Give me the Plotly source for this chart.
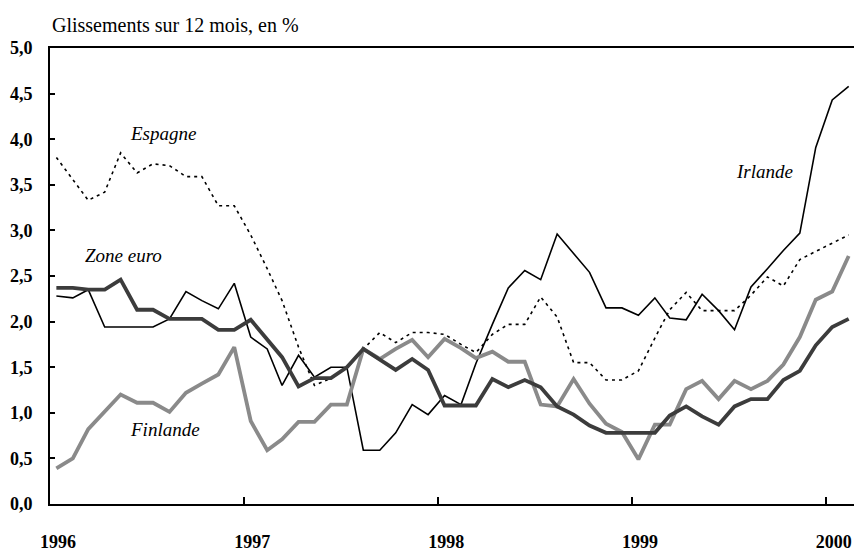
import pandas as pd
import plotly.graph_objects as go

months = pd.date_range("1996-01-01", periods=50, freq="MS") + pd.Timedelta(days=12)

zone_euro = [2.37, 2.37, 2.35, 2.35, 2.46, 2.13, 2.13, 2.03, 2.03, 2.03, 1.91, 1.91,
             2.02, 1.81, 1.61, 1.29, 1.38, 1.38, 1.50, 1.70, 1.58, 1.47, 1.59, 1.47,
             1.08, 1.08, 1.08, 1.37, 1.28, 1.36, 1.28, 1.07, 0.98, 0.86, 0.78, 0.78,
             0.78, 0.78, 0.97, 1.07, 0.96, 0.87, 1.07, 1.15, 1.15, 1.36, 1.46, 1.74,
             1.94, 2.03]

finlande = [0.39, 0.50, 0.82, 1.01, 1.20, 1.11, 1.11, 1.01, 1.22, 1.32, 1.42, 1.72,
            0.91, 0.59, 0.71, 0.90, 0.90, 1.09, 1.09, 1.70, 1.59, 1.70, 1.80, 1.61,
            1.81, 1.71, 1.60, 1.67, 1.56, 1.56, 1.09, 1.07, 1.37, 1.10, 0.88, 0.79,
            0.49, 0.87, 0.87, 1.26, 1.35, 1.15, 1.35, 1.26, 1.35, 1.53, 1.83, 2.24,
            2.33, 2.72]

irlande = [2.28, 2.26, 2.35, 1.94, 1.94, 1.94, 1.94, 2.03, 2.33, 2.23, 2.14, 2.42,
           1.83, 1.70, 1.30, 1.63, 1.39, 1.50, 1.50, 0.59, 0.59, 0.78, 1.09, 0.98,
           1.19, 1.09, 1.54, 1.97, 2.37, 2.56, 2.46, 2.96, 2.75, 2.54, 2.15, 2.15,
           2.07, 2.26, 2.04, 2.02, 2.30, 2.12, 1.91, 2.38, 2.58, 2.78, 2.97, 3.91,
           4.43, 4.58]

espagne = [3.80, 3.56, 3.33, 3.42, 3.85, 3.63, 3.73, 3.71, 3.59, 3.59, 3.27, 3.27,
           2.95, 2.58, 2.23, 1.72, 1.30, 1.38, 1.50, 1.70, 1.88, 1.77, 1.88, 1.88,
           1.86, 1.75, 1.66, 1.86, 1.97, 1.97, 2.27, 2.05, 1.55, 1.55, 1.36, 1.36,
           1.46, 1.82, 2.13, 2.32, 2.12, 2.12, 2.12, 2.29, 2.49, 2.39, 2.68, 2.77,
           2.86, 2.95]

year_ticks = ["1996-01-01", "1997-01-01", "1998-01-01", "1999-01-01", "2000-01-01"]
year_labels = ["1996", "1997", "1998", "1999", "2000"]
y_ticks = [0, 0.5, 1, 1.5, 2, 2.5, 3, 3.5, 4, 4.5, 5]
y_labels = ["0,0", "0,5", "1,0", "1,5", "2,0", "2,5", "3,0", "3,5", "4,0", "4,5", "5,0"]

FONT = "Liberation Serif"

fig = go.Figure()
fig.add_trace(go.Scatter(x=months, y=espagne, mode="lines", name="Espagne",
                         line=dict(color="black", width=1.6, dash="3px,4px")))
fig.add_trace(go.Scatter(x=months, y=irlande, mode="lines", name="Irlande",
                         line=dict(color="black", width=1.6)))
fig.add_trace(go.Scatter(x=months, y=finlande, mode="lines", name="Finlande",
                         line=dict(color="#8a8a8a", width=3.8)))
fig.add_trace(go.Scatter(x=months, y=zone_euro, mode="lines", name="Zone euro",
                         line=dict(color="#3c3c3c", width=3.8)))

fig.update_layout(
    width=854, height=552,
    margin=dict(l=50, r=0, t=48, b=44),
    paper_bgcolor="white", plot_bgcolor="white",
    showlegend=False,
    font=dict(family=FONT, color="black"),
    xaxis=dict(type="date", range=["1996-01-01", "2000-02-23"],
               tickvals=year_ticks, ticktext=year_labels,
               ticks="inside", ticklen=7, tickwidth=2, tickcolor="black",
               showline=True, linecolor="black", linewidth=2, mirror=True,
               showgrid=False, zeroline=False,
               tickfont=dict(family=FONT, size=18, weight="bold"),
               ticklabelshift=8, ticklabelstandoff=20),
    yaxis=dict(range=[0, 5], tickvals=y_ticks, ticktext=y_labels,
               ticks="inside", ticklen=5, tickwidth=2, tickcolor="black",
               showline=True, linecolor="black", linewidth=2,
               showgrid=False, zeroline=False,
               tickfont=dict(family=FONT, size=18, weight="bold"),
               ticklabelstandoff=12),
)

labels = [("Espagne", 0.1405, 0.813), ("Zone euro", 0.0908, 0.5457),
          ("Finlande", 0.143, 0.163), ("Irlande", 0.889, 0.730)]
for txt, px, py in labels:
    fig.add_annotation(text=txt, xref="paper", yref="paper", x=px, y=py,
                       showarrow=False, xanchor="center", yanchor="middle",
                       font=dict(family=FONT, size=19, style="italic", color="black"))

fig.add_annotation(text="Glissements sur 12 mois, en %", xref="paper", yref="paper",
                   x=0, y=1.05, xanchor="left", yanchor="middle", showarrow=False,
                   font=dict(family=FONT, size=20, color="black"))

fig.write_html("out.html",
               config={"displayModeBar": False},
               post_script="document.body.style.margin='0';"
                           "document.body.style.overflow='hidden';")
